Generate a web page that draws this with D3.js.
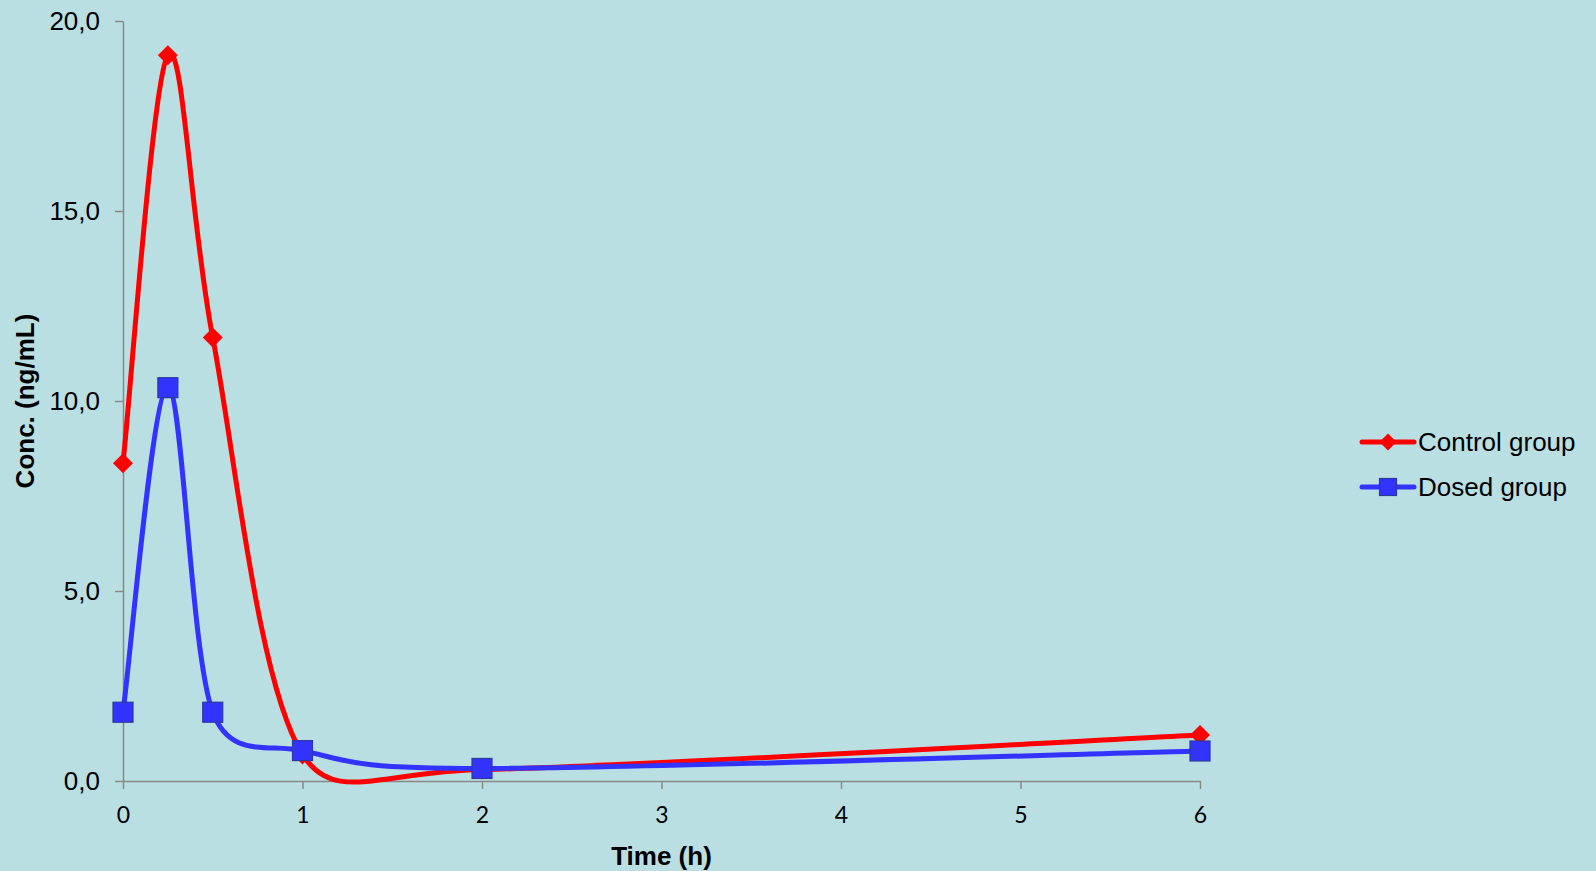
<!DOCTYPE html>
<html>
<head>
<meta charset="utf-8">
<script src="https://cdn.jsdelivr.net/npm/d3@7"></script>
<style>
  html, body { margin: 0; padding: 0; background: #b9dfe2; }
  svg { display: block; }
</style>
</head>
<body>
<svg id="chart" width="1596" height="871"></svg>
<script>
// Sampling times (h)
const times = [0, 0.25, 0.5, 1, 2, 6];
// Plasma concentration (ng/mL)
const controlGroup = [8.36, 19.1, 11.67, 0.7, 0.3, 1.21];
const dosedGroup = [1.81, 10.35, 1.81, 0.8, 0.33, 0.79];

const xTicks = [0, 1, 2, 3, 4, 5, 6];
const yTicks = [0, 5, 10, 15, 20];

const seriesNames = ["Control group", "Dosed group"];

const W = 1596, H = 871;
const plot = { left: 123, right: 1200, top: 21, bottom: 781 };

// Smoothed spline curve for d3.line: cubic Bezier segments with tangents (p2 - p0) / 6,
// shortened on short segments so the curve does not overshoot between close points.
// Segment lengths are measured with x rescaled by `aspect` (plot height / plot width).
function makeSmoothCurve(aspect) {
  function SmoothCurve(context) { this._context = context; }
  SmoothCurve.prototype = {
    areaStart() { this._line = 0; },
    areaEnd() { this._line = NaN; },
    lineStart() { this._pts = []; },
    point(x, y) { this._pts.push([+x, +y]); },
    lineEnd() {
      const p = this._pts, n = p.length, c = this._context;
      if (!n) return;
      c.moveTo(p[0][0], p[0][1]);
      const dist = (a, b) => Math.hypot((b[0] - a[0]) * aspect, b[1] - a[1]);
      for (let i = 0; i < n - 1; i++) {
        const p0 = p[Math.max(i - 1, 0)], p1 = p[i], p2 = p[i + 1], p3 = p[Math.min(i + 2, n - 1)];
        const d02 = dist(p0, p2), d12 = dist(p1, p2), d13 = dist(p1, p3);
        let f = 1 / 6;
        if (d02 / 6 >= d12 / 2 || d13 / 6 >= d12 / 2) f = d12 / (d02 + d13);
        c.bezierCurveTo(
          p1[0] + (p2[0] - p0[0]) * f, p1[1] + (p2[1] - p0[1]) * f,
          p2[0] - (p3[0] - p1[0]) * f, p2[1] - (p3[1] - p1[1]) * f,
          p2[0], p2[1]);
      }
    }
  };
  return context => new SmoothCurve(context);
}

const svg = d3.select("#chart");
svg.append("rect").attr("width", W).attr("height", H).attr("fill", "#b9dfe2");

const x = d3.scaleLinear().domain([0, 6]).range([plot.left, plot.right]);
const y = d3.scaleLinear().domain([0, 20]).range([plot.bottom, plot.top]);

const axisColor = "#888888";
const fmtY = v => d3.format(".1f")(v).replace(".", ",");

// Y axis
const yAxis = svg.append("g")
  .attr("transform", `translate(${plot.left},0)`)
  .call(d3.axisLeft(y).tickValues(yTicks).tickFormat(fmtY).tickSizeInner(8).tickSizeOuter(0).tickPadding(15));
yAxis.select(".domain").attr("stroke", axisColor).attr("stroke-width", 1.5);
yAxis.selectAll(".tick line").attr("stroke", axisColor).attr("stroke-width", 1.5);
yAxis.selectAll(".tick text")
  .attr("font-family", "'Liberation Sans', Arial, sans-serif")
  .attr("font-size", 26).attr("fill", "#000");

// X axis
const xAxis = svg.append("g")
  .attr("transform", `translate(0,${plot.bottom})`)
  .call(d3.axisBottom(x).tickValues(xTicks).tickFormat(d3.format("d")).tickSizeInner(8).tickSizeOuter(0).tickPadding(18));
xAxis.select(".domain").attr("stroke", axisColor).attr("stroke-width", 1.5);
xAxis.selectAll(".tick line").attr("stroke", axisColor).attr("stroke-width", 1.5);
xAxis.selectAll(".tick text")
  .attr("font-family", "Lato, 'Open Sans', sans-serif")
  .attr("font-size", 23).attr("fill", "#000");

// Axis titles
svg.append("text")
  .attr("x", (plot.left + plot.right) / 2).attr("y", 865)
  .attr("text-anchor", "middle")
  .attr("font-family", "'Liberation Sans', Arial, sans-serif")
  .attr("font-weight", "bold").attr("font-size", 26)
  .text("Time (h)");

svg.append("text")
  .attr("transform", `translate(34,${(plot.top + plot.bottom) / 2}) rotate(-90)`)
  .attr("text-anchor", "middle")
  .attr("font-family", "'Liberation Sans', Arial, sans-serif")
  .attr("font-weight", "bold").attr("font-size", 26)
  .text("Conc. (ng/mL)");

const aspect = (plot.bottom - plot.top) / (plot.right - plot.left);
const line = d3.line().curve(makeSmoothCurve(aspect));

const diamond = s => `M0,${-s}L${s},0L0,${s}L${-s},0Z`;

function drawSeries(values, color, markerFn) {
  const pts = times.map((t, i) => [x(t), y(values[i])]);
  svg.append("path").attr("d", line(pts))
    .attr("fill", "none").attr("stroke", color).attr("stroke-width", 5)
    .attr("stroke-linejoin", "round").attr("stroke-linecap", "round");
  const g = svg.append("g");
  pts.forEach(p => markerFn(g, p[0], p[1], 1));
}

const redMarker = (g, cx, cy, k) => g.append("path")
  .attr("d", diamond(10 * k)).attr("transform", `translate(${cx},${cy})`)
  .attr("fill", "#ff0000");
const blueMarker = (g, cx, cy, k) => g.append("rect")
  .attr("x", cx - 10 * k).attr("y", cy - 10 * k)
  .attr("width", 20 * k).attr("height", 20 * k)
  .attr("fill", "#3333ff").attr("stroke", "#2b3a9c").attr("stroke-width", 1.2);

drawSeries(controlGroup, "#ff0000", redMarker);
drawSeries(dosedGroup, "#3333ff", blueMarker);

// Legend
const legend = [
  { name: seriesNames[0], color: "#ff0000", marker: redMarker, y: 442 },
  { name: seriesNames[1], color: "#3333ff", marker: blueMarker, y: 487 }
];
legend.forEach(d => {
  svg.append("line").attr("x1", 1362).attr("x2", 1414).attr("y1", d.y).attr("y2", d.y)
    .attr("stroke", d.color).attr("stroke-width", 5).attr("stroke-linecap", "round");
  d.marker(svg, 1388, d.y, 0.85);
  svg.append("text").attr("x", 1418).attr("y", d.y + 8.5)
    .attr("font-family", "'Liberation Sans', Arial, sans-serif")
    .attr("font-size", 26).attr("fill", "#000")
    .text(d.name);
});
</script>
</body>
</html>
